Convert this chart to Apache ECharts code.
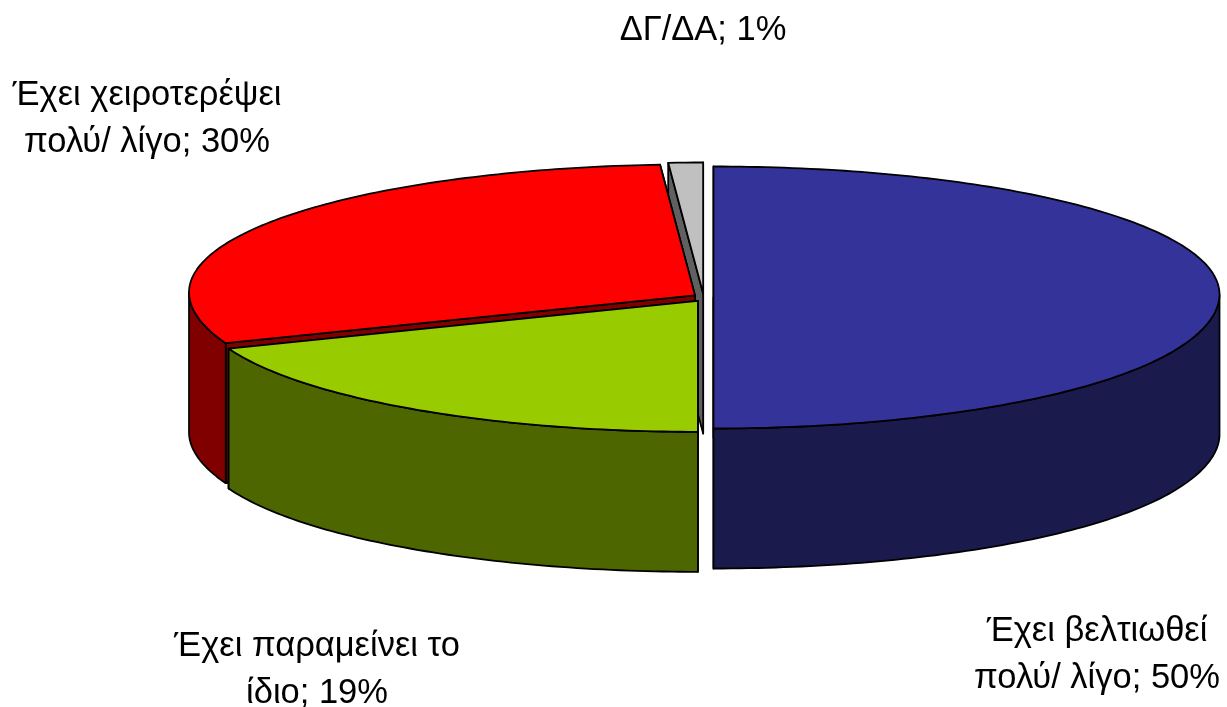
<!DOCTYPE html>
<html>
<head>
<meta charset="utf-8">
<script src="https://cdn.jsdelivr.net/npm/echarts@6/dist/echarts.min.js"></script>
<style>html,body{margin:0;padding:0;background:#fff}#c{width:1227px;height:707px}</style>
</head>
<body>
<div id="c"></div>
<script>
var categories = ['Έχει βελτιωθεί\nπολύ/ λίγο', 'Έχει παραμείνει το\nίδιο', 'Έχει χειροτερέψει\nπολύ/ λίγο', 'ΔΓ/ΔΑ'];
var values = [50, 18.9, 30, 1.1];
var topColors = ['#333399', '#99cc00', '#ff0000', '#c0c0c0'];
var sideColors = ['#1a1a4d', '#4d6600', '#800000', '#606060'];
var paintOrder = [4, 3, 2, 1];
var labelAnchors = [[1097, 655], [317, 670], [147, 119], [703, 30]];

var CX = 703.5, CY = 297.5, RX = 506, RY = 131, DEPTH = 140, EXPLODE_X = 10, EXPLODE_Y = 4, SHOULDER = 3;
var total = values.reduce(function (a, b) { return a + b; }, 0);

function pt(c, deg, dy) {
  var r = deg * Math.PI / 180, s = Math.sin(r), co = Math.cos(r);
  var lift = SHOULDER * (co > 0 ? s * s : Math.pow(s, 12));
  return [c[0] + RX * s, c[1] - RY * co - lift + (dy || 0)];
}
function arc(c, a0, a1, dy) {
  var out = [], n = Math.max(2, Math.ceil(Math.abs(a1 - a0)));
  for (var i = 0; i <= n; i++) out.push(pt(c, a0 + (a1 - a0) * i / n, dy));
  return out;
}
function poly(points, fill, z2) {
  return {
    type: 'polygon', z2: z2, shape: { points: points },
    style: { fill: fill, stroke: '#000', lineWidth: 1.8, lineJoin: 'round' }
  };
}

function renderSlice(params, api) {
  var i = params.dataIndex, v = api.value(0), start = 0;
  for (var k = 0; k < i; k++) start += values[k];
  var a0 = start / total * 360, a1 = (start + v) / total * 360, mid = (a0 + a1) / 2 * Math.PI / 180;
  var c = [CX + EXPLODE_X * Math.sin(mid), CY - EXPLODE_Y * Math.cos(mid)];
  var base = paintOrder[i] * 10, side = sideColors[i], kids = [];

  // cut faces
  [a1, a0].forEach(function (a, j) {
    var p = pt(c, a);
    kids.push(poly([c, p, [p[0], p[1] + DEPTH], [c[0], c[1] + DEPTH]], side, base + j));
  });
  // visible outer wall
  var w0 = Math.max(a0, 90), w1 = Math.min(a1, 270);
  if (w1 > w0) {
    kids.push(poly(arc(c, w0, w1, 0).concat(arc(c, w1, w0, DEPTH)), side, base + 2));
  }
  // top face
  kids.push(poly([c].concat(arc(c, a0, a1, 0)), topColors[i], base + 3));
  // label
  kids.push({
    type: 'text', z2: 100,
    style: {
      text: categories[i] + '; ' + Math.round(v) + '%',
      x: labelAnchors[i][0], y: labelAnchors[i][1],
      fill: '#000', fontFamily: '"Liberation Sans", Arial, sans-serif', fontSize: 34.5,
      lineHeight: 47, align: 'center', verticalAlign: 'middle'
    }
  });
  return { type: 'group', children: kids };
}

var chart = echarts.init(document.getElementById('c'), null, { renderer: 'canvas' });
chart.setOption({
  animation: false,
  backgroundColor: '#ffffff',
  series: [{
    type: 'custom',
    coordinateSystem: 'none',
    renderItem: renderSlice,
    data: values.map(function (v) { return [v]; })
  }]
});
</script>
</body>
</html>
